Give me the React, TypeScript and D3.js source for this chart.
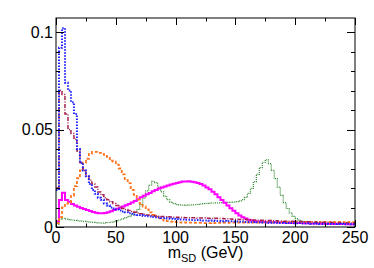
import React, { useEffect, useRef } from 'react';
import * as d3 from 'd3';

// 100 bins of 2.5 GeV, from 0 to 250
const binWidth = 2.5;

const blueVals = [
  0.019, 0.092, 0.102, 0.074, 0.070, 0.064, 0.058, 0.040, 0.033, 0.029,
  0.026, 0.022, 0.019, 0.017, 0.015, 0.014, 0.012, 0.011, 0.010, 0.0095,
  0.009, 0.0085, 0.008, 0.0076, 0.0071, 0.0068, 0.0064, 0.0062, 0.0061, 0.0057,
  0.0055, 0.0054, 0.0051, 0.005, 0.0049, 0.0046, 0.0046, 0.0043, 0.0042, 0.0041,
  0.004, 0.0039, 0.0039, 0.0037, 0.0037, 0.0036, 0.0035, 0.0036, 0.0034, 0.0033,
  0.0033, 0.0032, 0.0033, 0.0031, 0.0031, 0.003, 0.0031, 0.0029, 0.0029, 0.0028,
  0.0028, 0.0027, 0.0028, 0.0026, 0.0026, 0.0025, 0.0026, 0.0024, 0.0024, 0.0023,
  0.0023, 0.0022, 0.0023, 0.0022, 0.0021, 0.0021, 0.002, 0.0021, 0.002, 0.0019,
  0.0019, 0.002, 0.0018, 0.0018, 0.0019, 0.0017, 0.0017, 0.0018, 0.0016, 0.0016,
  0.0017, 0.0016, 0.0015, 0.0015, 0.0016, 0.0015, 0.0014, 0.0015, 0.0014, 0.0014,
];

const redVals = [
  0.020, 0.070, 0.068, 0.058, 0.050, 0.048, 0.045, 0.039, 0.033, 0.029,
  0.026, 0.024, 0.022, 0.0205, 0.018, 0.0165, 0.015, 0.014, 0.013, 0.012,
  0.011, 0.0103, 0.0095, 0.009, 0.0085, 0.008, 0.0076, 0.0072, 0.0068, 0.0065,
  0.0062, 0.006, 0.0058, 0.0057, 0.0055, 0.0054, 0.0053, 0.0052, 0.0051, 0.005,
  0.005, 0.0049, 0.0049, 0.0048, 0.0048, 0.0047, 0.0047, 0.0046, 0.0046, 0.0046,
  0.0045, 0.0045, 0.0044, 0.0045, 0.0043, 0.0043, 0.0042, 0.0042, 0.0041, 0.004,
  0.004, 0.0039, 0.0038, 0.0039, 0.0037, 0.0036, 0.0036, 0.0035, 0.0034, 0.0034,
  0.0033, 0.0033, 0.0032, 0.0032, 0.0031, 0.0031, 0.003, 0.003, 0.003, 0.0029,
  0.0029, 0.0028, 0.0028, 0.0027, 0.0027, 0.0026, 0.0026, 0.0025, 0.0025, 0.0024,
  0.0024, 0.0024, 0.0023, 0.0023, 0.0022, 0.0022, 0.0022, 0.0021, 0.0021, 0.002,
];

const orangeVals = [
  0.002, 0.005, 0.010, 0.012, 0.0125, 0.016, 0.021, 0.025, 0.029, 0.033,
  0.035, 0.0375, 0.0385, 0.0385, 0.038, 0.038, 0.037, 0.036, 0.034, 0.0335,
  0.032, 0.030, 0.027, 0.024, 0.0225, 0.019, 0.0165, 0.014, 0.012, 0.0105,
  0.009, 0.0075, 0.0062, 0.0052, 0.0045, 0.0038, 0.0033, 0.003, 0.0028, 0.0026,
  0.0025, 0.0024, 0.0023, 0.0023, 0.0022, 0.0022, 0.0021, 0.0021, 0.0021, 0.002,
  0.002, 0.002, 0.0021, 0.002, 0.0021, 0.0021, 0.0022, 0.0021, 0.0022, 0.0022,
  0.0022, 0.0023, 0.0022, 0.0023, 0.0023, 0.0023, 0.0024, 0.0023, 0.0024, 0.0024,
  0.0024, 0.0025, 0.0024, 0.0025, 0.0025, 0.0025, 0.0024, 0.0025, 0.0026, 0.0025,
  0.0025, 0.0026, 0.0025, 0.0026, 0.0026, 0.0025, 0.0026, 0.0026, 0.0025, 0.0026,
  0.0026, 0.0025, 0.0026, 0.0025, 0.0026, 0.0025, 0.0025, 0.0026, 0.0025, 0.0025,
];

const magentaVals = [
  0.003, 0.0138, 0.0176, 0.0138, 0.013, 0.0118, 0.011, 0.0104, 0.0098, 0.0092,
  0.0087, 0.0082, 0.0077, 0.0073, 0.0071, 0.007, 0.0072, 0.0076, 0.0081, 0.0087,
  0.0093, 0.0099, 0.0105, 0.0111, 0.0118, 0.0126, 0.0134, 0.0142, 0.0152, 0.016,
  0.0168, 0.0175, 0.0183, 0.019, 0.0197, 0.0203, 0.0208, 0.0213, 0.0218, 0.0222,
  0.0226, 0.0229, 0.0234, 0.0233, 0.0235, 0.0232, 0.023, 0.0226, 0.022, 0.0213,
  0.0203, 0.0193, 0.0181, 0.0168, 0.0153, 0.0138, 0.0124, 0.011, 0.0096, 0.0083,
  0.007, 0.0059, 0.005, 0.0043, 0.0037, 0.0033, 0.003, 0.0028, 0.0027, 0.0026,
  0.0025, 0.0025, 0.0024, 0.0024, 0.0023, 0.0023, 0.0022, 0.0022, 0.0021, 0.0021,
  0.002, 0.002, 0.002, 0.0019, 0.0019, 0.0018, 0.0018, 0.0018, 0.0017, 0.0017,
  0.0017, 0.0016, 0.0016, 0.0016, 0.0015, 0.0015, 0.0015, 0.0014, 0.0014, 0.0014,
];

const greenVals = [
  0.0015, 0.004, 0.0045, 0.004, 0.0038, 0.0036, 0.0034, 0.0032, 0.003, 0.0029,
  0.0027, 0.0025, 0.0024, 0.0022, 0.0021, 0.002, 0.0021, 0.0023, 0.0025, 0.0028,
  0.0031, 0.0036, 0.0042, 0.0048, 0.0055, 0.0062, 0.0075, 0.009, 0.0115, 0.0148,
  0.0185, 0.0215, 0.0234, 0.0228, 0.0205, 0.018, 0.0158, 0.014, 0.0128, 0.012,
  0.0115, 0.0113, 0.0112, 0.0111, 0.0112, 0.0113, 0.0114, 0.0116, 0.0118, 0.012,
  0.0121, 0.0122, 0.0123, 0.0124, 0.0124, 0.0125, 0.0126, 0.0126, 0.0127, 0.0128,
  0.013, 0.0134, 0.014, 0.0152, 0.0172, 0.0198, 0.0232, 0.027, 0.0305, 0.0332,
  0.0345, 0.0325, 0.029, 0.0248, 0.0205, 0.0162, 0.0125, 0.0095, 0.0072, 0.0055,
  0.0043, 0.0035, 0.0029, 0.0025, 0.0022, 0.002, 0.0019, 0.0018, 0.0017, 0.0016,
  0.0016, 0.0015, 0.0015, 0.0014, 0.0014, 0.0013, 0.0013, 0.0013, 0.0012, 0.0012,
];

const xTicks = [0, 50, 100, 150, 200, 250];
const yTickLabels = ['0', '0.05', '0.1'];

const series = [
  { vals: greenVals, color: '#2f8a2f', width: 1.2, dash: '1 1' },
  { vals: magentaVals, color: '#ff00ff', width: 2, dash: null },
  { vals: orangeVals, color: '#ff7722', width: 1.8, dash: '3 2' },
  { vals: redVals, color: '#a8204e', width: 1.5, dash: '4 1.5 1 1.5' },
  { vals: blueVals, color: '#2323ff', width: 2, dash: '1.5 1.5' },
];

const W = 374, H = 268;
const left = 56, right = 355, top = 18, bottom = 227;

export default function App() {
  const ref = useRef(null);

  useEffect(() => {
    const svg = d3.select(ref.current);
    svg.selectAll('*').remove();

    const x = d3.scaleLinear().domain([0, 250]).range([left, right]);
    const y = d3.scaleLinear().domain([0, 0.1072]).range([bottom, top]);

    svg.append('clipPath').attr('id', 'plotclip')
      .append('rect').attr('x', left).attr('y', top)
      .attr('width', right - left).attr('height', bottom - top);

    const line = d3.line();
    const g = svg.append('g').attr('clip-path', 'url(#plotclip)');

    series.forEach(s => {
      const pts = [];
      s.vals.forEach((v, i) => {
        pts.push([x(i * binWidth), y(v)]);
        pts.push([x((i + 1) * binWidth), y(v)]);
      });
      g.append('path')
        .attr('d', line(pts))
        .attr('fill', 'none')
        .attr('stroke', s.color)
        .attr('stroke-width', s.width)
        .attr('stroke-dasharray', s.dash)
        .attr('stroke-linejoin', 'miter');
    });

    // frame
    svg.append('rect')
      .attr('x', left).attr('y', top)
      .attr('width', right - left).attr('height', bottom - top)
      .attr('fill', 'none').attr('stroke', '#000').attr('stroke-width', 1);

    const ticks = svg.append('g').attr('stroke', '#000').attr('stroke-width', 1);

    // x ticks every 25, major every 50
    d3.range(0, 251, 25).forEach(v => {
      const len = v % 50 === 0 ? 7 : 3.5;
      const px = Math.round(x(v)) + 0.5;
      ticks.append('line').attr('x1', px).attr('x2', px).attr('y1', bottom).attr('y2', bottom - len);
      ticks.append('line').attr('x1', px).attr('x2', px).attr('y1', top).attr('y2', top + len);
    });

    // y ticks every 0.01, major every 0.05
    d3.range(0, 11).forEach(k => {
      const v = k * 0.01;
      const len = k % 5 === 0 ? 8 : 4;
      const py = Math.round(y(v)) + 0.5;
      ticks.append('line').attr('x1', left).attr('x2', left + len).attr('y1', py).attr('y2', py);
      ticks.append('line').attr('x1', right).attr('x2', right - len).attr('y1', py).attr('y2', py);
    });

    const font = 'Liberation Sans, Arial, sans-serif';

    svg.append('g').selectAll('text').data(xTicks).join('text')
      .attr('x', d => x(d)).attr('y', 242.5)
      .attr('text-anchor', 'middle')
      .attr('font-family', font).attr('font-size', 16)
      .text(d => d);

    svg.append('g').selectAll('text').data(yTickLabels).join('text')
      .attr('x', 53).attr('y', d => y(+d) + 5.5)
      .attr('text-anchor', 'end')
      .attr('font-family', font).attr('font-size', 16)
      .text(d => d);

    const title = svg.append('text')
      .attr('x', (left + right) / 2).attr('y', 258)
      .attr('text-anchor', 'middle')
      .attr('font-family', font).attr('font-size', 16);
    title.append('tspan').text('m');
    title.append('tspan').attr('font-size', 11).attr('dy', 4).text('SD');
    title.append('tspan').attr('dy', -4).text(' (GeV)');
  }, []);

  return (
    <svg ref={ref} width={W} height={H}
      style={{ position: 'absolute', left: 0, top: 0, background: '#fff' }} />
  );
}
